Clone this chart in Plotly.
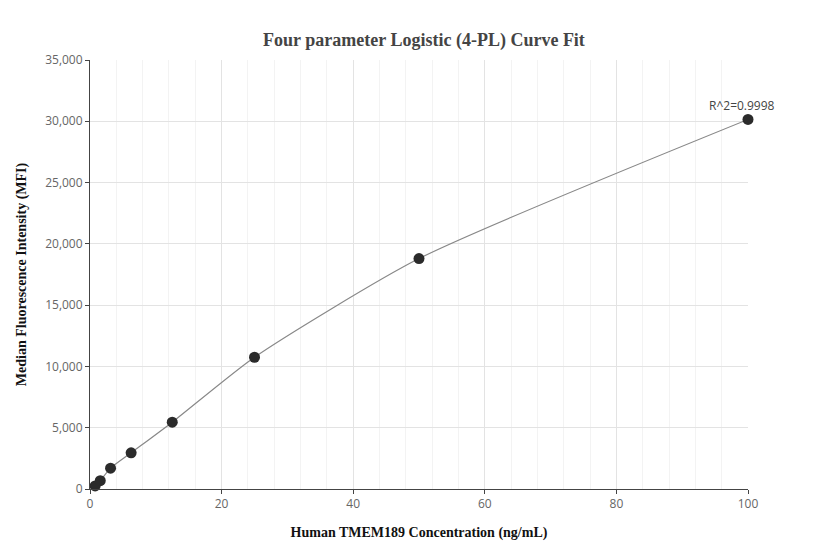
import plotly.graph_objects as go

conc = [0.78, 1.56, 3.125, 6.25, 12.5, 25, 50, 100]
mfi = [250, 680, 1700, 2950, 5450, 10750, 18800, 30150]
r2_label = "R^2=0.9998"

fig = go.Figure()
fig.add_trace(go.Scatter(x=conc, y=mfi, mode="lines", line=dict(color="#888", width=1.2, shape="spline", smoothing=0.6), hoverinfo="skip"))
fig.add_trace(go.Scatter(x=conc, y=mfi, mode="markers", marker=dict(color="#2b2b2b", size=11), cliponaxis=False))
fig.add_annotation(x=conc[-1], y=mfi[-1], text=r2_label, showarrow=False, yshift=14, xshift=-6, font=dict(family="Open Sans", size=12, color="#444"))
fig.update_layout(
    width=832, height=560, showlegend=False, plot_bgcolor="white", paper_bgcolor="white",
    margin=dict(l=75, r=92, t=52, b=79),
    title=dict(text="<b>Four parameter Logistic (4-PL) Curve Fit</b>", x=0.5, y=0.955, xanchor="center",
               font=dict(family="Times New Roman, Liberation Serif", size=18, color="#444")),
    xaxis=dict(range=[0, 100], dtick=20, showline=True, linecolor="#444", ticks="outside", ticklen=4, tickcolor="#444",
               gridcolor="#e3e3e3", minor=dict(dtick=4, showgrid=True, gridcolor="#f3f3f3"),
               tickfont=dict(family="Open Sans", size=12, color="#666"), zeroline=False,
               title=dict(text="<b>Human TMEM189 Concentration (ng/mL)</b>", font=dict(family="Times New Roman, Liberation Serif", size=14, color="#111"))),
    yaxis=dict(range=[0, 35000], dtick=5000, tickformat=",", showline=True, linecolor="#444", ticks="outside", ticklen=4, tickcolor="#444",
               gridcolor="#e3e3e3", zeroline=False,
               tickfont=dict(family="Open Sans", size=12, color="#666"),
               title=dict(text="<b>Median Fluorescence Intensity (MFI)</b>", font=dict(family="Times New Roman, Liberation Serif", size=14, color="#111"))),
)
fig.write_html("out.html")
